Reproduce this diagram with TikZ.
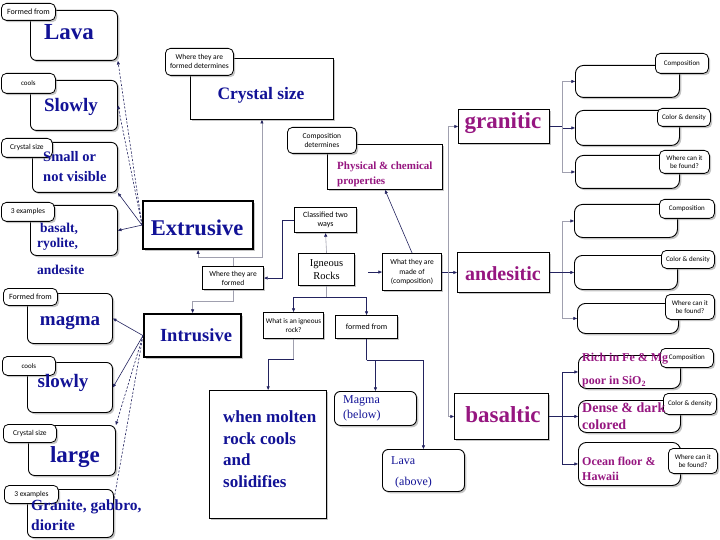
\documentclass[tikz,border=0pt]{standalone}
\usepackage{fontspec}
\setmainfont{Liberation Serif}
\newfontfamily\tagf{Carlito}
\usetikzlibrary{arrows.meta,shadows,calc}
\definecolor{tblue}{RGB}{18,18,150}
\definecolor{tpurp}{RGB}{150,22,128}
\definecolor{navy}{RGB}{35,35,95}
\definecolor{lgray}{RGB}{160,160,175}
\tikzset{
  shd/.style={drop shadow={shadow xshift=1.8pt,shadow yshift=-1.8pt,fill=black!45}},
  rbox/.style={shd,draw=black,line width=0.9pt,rounded corners=6pt,fill=white,inner sep=0pt,anchor=north west},
  tagbox/.style={shd,draw=black,line width=0.8pt,rounded corners=5pt,fill=white,inner sep=0pt,anchor=north west,align=center,font=\tagf\fontsize{8}{8.6}\selectfont},
  sbox/.style={shd,draw=black,line width=1.1pt,fill=white,inner sep=0pt,anchor=north west,align=center,font=\tagf\fontsize{8}{9.6}\selectfont},
  bbox/.style={shd,draw=black,line width=2.2pt,fill=white,inner sep=0pt,anchor=north west},
  pbox/.style={shd,draw=black,line width=1pt,fill=white,inner sep=0pt,anchor=north west},
  big/.style={inner sep=0pt,text=tblue,font=\bfseries\fontsize{#1}{#1}\selectfont},
  bigl/.style={big=#1,anchor=west},
  pur/.style={inner sep=0pt,text=tpurp,font=\bfseries\fontsize{#1}{#1}\selectfont},
  purl/.style={pur=#1,anchor=west},
  con/.style={navy,line width=0.6pt},
  arr/.style={con,-{Triangle[length=3.6pt,width=3pt]}},
  gcon/.style={lgray,line width=0.6pt},
  garr/.style={gcon,-{Triangle[length=3.6pt,width=3pt,color=navy]}},
  dsh/.style={dash pattern=on 2.2pt off 1.6pt},
}
\begin{document}
\begin{tikzpicture}[x=1pt,y=-1pt]
\fill[white] (0,0) rectangle (720,540);
\useasboundingbox (0,0) rectangle (720,540);

% ---------- left column boxes ----------
\node[rbox,minimum width=87pt,minimum height=50pt] (L1) at (30,10) {};
\node[rbox,minimum width=87pt,minimum height=50pt] (L2) at (30,80) {};
\node[rbox,minimum width=85pt,minimum height=50pt] (L3) at (32,142) {};
\node[rbox,minimum width=87pt,minimum height=50pt] (L4) at (30,205) {};
\node[rbox,minimum width=85pt,minimum height=50pt] (L5) at (27,293) {};
\node[rbox,minimum width=85pt,minimum height=50pt] (L6) at (27,362) {};
\node[rbox,minimum width=87pt,minimum height=50pt] (L7) at (28,425) {};
\node[rbox,minimum width=86pt,minimum height=48pt] (L8) at (27,489) {};

\node[tagbox,minimum width=54pt,minimum height=17pt] (T1) at (1,3) {Formed from};
\node[tagbox,minimum width=54pt,minimum height=20pt,font=\tagf\fontsize{7}{8}\selectfont] (T2) at (1,73) {cools};
\node[tagbox,minimum width=51pt,minimum height=19pt,font=\tagf\fontsize{7.5}{8}\selectfont] (T3) at (1,138) {Crystal size};
\node[tagbox,minimum width=53pt,minimum height=19pt,font=\tagf\fontsize{7.5}{8}\selectfont] (T4) at (1,202) {3 examples};
\node[tagbox,minimum width=54pt,minimum height=17pt] (T5) at (3,288) {Formed from};
\node[tagbox,minimum width=53pt,minimum height=19pt,font=\tagf\fontsize{7}{8}\selectfont] (T6) at (2,356) {cools};
\node[tagbox,minimum width=53pt,minimum height=18pt,font=\tagf\fontsize{7.5}{8}\selectfont] (T7) at (3,424) {Crystal size};
\node[tagbox,minimum width=54pt,minimum height=18pt,font=\tagf\fontsize{7.5}{8}\selectfont] (T8) at (4,485) {3 examples};

\node[big=23] (tLava) at (69,32) {Lava};
\node[big=19] (tSlowly) at (71,107) {Slowly};
\node[bigl=14.5] (tSmall) at (43,157) {Small or};
\node[bigl=14.5] (tVis) at (43,177) {not visible};
\node[bigl=13.5] (tBas) at (40,229) {basalt,};
\node[bigl=13.5] (tRyo) at (37,244) {ryolite,};
\node[bigl=13.5] (tAnd) at (37,270) {andesite};
\node[big=19] (tMagma) at (70,323) {magma};
\node[big=19] (tSlow2) at (63,383) {slowly};
\node[big=23] (tLarge) at (75,457) {large};
\node[bigl=15.5] (tGran) at (31,507) {Granite, gabbro,};
\node[bigl=15.5] (tDio) at (31,525) {diorite};

% ---------- middle ----------
\node[pbox,line width=0.9pt,minimum width=143pt,minimum height=61pt] (crystal) at (190,58) {};
\node[tagbox,minimum width=68pt,minimum height=27pt,font=\tagf\fontsize{7.5}{9}\selectfont] (Tcr) at (165,48) {Where they are\\formed determines};
\node[big=17.5] (tCrystal) at (261,95) {Crystal size};

\node[pbox,minimum width=115pt,minimum height=45pt] (phys) at (327,144) {};
\node[tagbox,minimum width=69pt,minimum height=26pt,font=\tagf\fontsize{7.5}{9}\selectfont] (Tph) at (287,127) {Composition\\determines};
\node[purl=11] (tPhys1) at (337,167) {Physical \& chemical};
\node[purl=11] (tPhys2) at (337,182) {properties};

\node[bbox,minimum width=110pt,minimum height=48pt] (extr) at (142,200) {};
\node[big=22.5] (tExtr) at (197,228) {Extrusive};
\node[bbox,minimum width=97pt,minimum height=43pt] (intr) at (143,313) {};
\node[big=18.5] (tIntr) at (196,335) {Intrusive};

\node[sbox,minimum width=62pt,minimum height=25pt] (class) at (294,207) {Classified two\\ways};
\node[sbox,minimum width=56pt,minimum height=32pt,font=\fontsize{10.5}{12.5}\selectfont] (ign) at (298,253) {Igneous\\Rocks};
\node[sbox,minimum width=59pt,minimum height=37pt,font=\tagf\fontsize{7.5}{9.4}\selectfont] (made) at (382,253) {What they are\\made of\\(composition)};
\node[sbox,minimum width=61pt,minimum height=23pt,font=\tagf\fontsize{7.5}{9}\selectfont] (where) at (202,266) {Where they are\\formed};
\node[sbox,minimum width=60pt,minimum height=26pt,font=\tagf\fontsize{7.2}{9.4}\selectfont] (whatis) at (263,312) {What is an igneous\\rock?};
\node[sbox,minimum width=62pt,minimum height=23pt] (fromb) at (335,315) {formed from};

\node[pbox,line width=1.3pt,minimum width=117pt,minimum height=128pt] (molten) at (209,390) {};
\node[bigl=17] (tM1) at (223,417) {when molten};
\node[bigl=17] (tM2) at (223,439) {rock cools};
\node[bigl=17] (tM3) at (223,460) {and};
\node[bigl=17] (tM4) at (223,482) {solidifies};

\node[rbox,minimum width=82pt,minimum height=34pt] (magma2) at (334,391) {};
\node[anchor=west,inner sep=0pt,text=tblue,font=\fontsize{12}{12}\selectfont] (tMg1) at (343,401) {Magma};
\node[anchor=west,inner sep=0pt,text=tblue,font=\fontsize{12}{12}\selectfont] (tMg2) at (343,416) {(below)};
\node[rbox,minimum width=82pt,minimum height=42pt] (lava2) at (382,449) {};
\node[anchor=west,inner sep=0pt,text=tblue,font=\fontsize{12}{12}\selectfont] (tLv1) at (391,461) {Lava};
\node[anchor=west,inner sep=0pt,text=tblue,font=\fontsize{12}{12}\selectfont] (tLv2) at (395,483) {(above)};

\node[pbox,minimum width=91pt,minimum height=34pt] (gran) at (458,109) {};
\node[pur=23] (tGr) at (503,123) {granitic};
\node[pbox,minimum width=92pt,minimum height=40pt] (ande) at (457,252) {};
\node[pur=20] (tAn) at (503,274) {andesitic};
\node[pbox,minimum width=94pt,minimum height=46pt] (basa) at (454,393) {};
\node[pur=23] (tBa) at (503,415) {basaltic};

% ---------- right column ----------
\tikzset{rr/.style={rbox,rounded corners=8pt}}
\node[rr,minimum width=104pt,minimum height=32pt] (g1) at (575,65) {};
\node[rr,minimum width=104pt,minimum height=35pt] (g2) at (575,110) {};
\node[rr,minimum width=104pt,minimum height=33pt] (g3) at (575,155) {};
\node[rr,minimum width=103pt,minimum height=33pt] (a1) at (574,204) {};
\node[rr,minimum width=103pt,minimum height=34pt] (a2) at (574,255) {};
\node[rr,minimum width=101pt,minimum height=30pt] (a3) at (577,303) {};
\node[rr,minimum width=102pt,minimum height=33pt] (b1) at (578,355) {};
\node[rr,minimum width=102pt,minimum height=32pt] (b2) at (578,400) {};
\node[rr,minimum width=102pt,minimum height=43pt] (b3) at (578,442) {};

\tikzset{rtag/.style={tagbox,font=\tagf\fontsize{7}{8.2}\selectfont}}
\node[rtag,minimum width=53pt,minimum height=20pt] (g1t) at (655,53) {Composition};
\node[rtag,minimum width=53pt,minimum height=18pt] (g2t) at (657,108) {Color \& density};
\node[rtag,minimum width=50pt,minimum height=23pt] (g3t) at (659,150) {Where can it\\be found?};
\node[rtag,minimum width=55pt,minimum height=19pt] (a1t) at (659,199) {Composition};
\node[rtag,minimum width=53pt,minimum height=18pt] (a2t) at (661,250) {Color \& density};
\node[rtag,minimum width=49pt,minimum height=25pt] (a3t) at (665,294) {Where can it\\be found?};
\node[rtag,minimum width=53pt,minimum height=19pt] (b1t) at (660,348) {Composition};
\node[rtag,minimum width=53pt,minimum height=21pt] (b2t) at (663,393) {Color \& density};
\node[rtag,minimum width=49pt,minimum height=25pt] (b3t) at (668,448) {Where can it\\be found?};

\node[purl=12] (tB1) at (582,359) {Rich in Fe \& Mg};
\node[purl=12] (tB2) at (582,382) {poor in SiO\textsubscript{2}};
\node[purl=14] (tB3) at (582,408) {Dense \& dark};
\node[purl=14] (tB4) at (582,425) {colored};
\node[purl=12] (tB5) at (582,461) {Ocean floor \&};
\node[purl=12] (tB6) at (582,476) {Hawaii};

% ---------- connectors ----------
\draw[arr,dsh] (extr.west) -- (L1.south east);
\draw[arr,dsh] (extr.west) -- (L2.east);
\draw[arr] (extr.west) -- (L3.south east);
\draw[arr] (extr.west) -- (L4.east);

\draw[arr] (intr.west) -- (L5.east);
\draw[arr] (intr.west) -- (L6.east);
\draw[arr,dsh] (intr.west) -- (L7.north east);
\draw[con,dsh] (intr.west) -- ($(L8.north east)+(0,11)$);

\draw[gcon] (where.north) -- ++(0,-9) coordinate (wj);
\draw[garr] (wj) -| (extr.south);
\draw[garr] (wj) -| (crystal.south);
\draw[garr] (where.south) -- ++(0,11) -| (intr.north);

\draw[arr] (class.west) -- ++(-12,0) |- (where.east);
\draw[garr] (ign.north) -- (class.south);
\draw[arr] ([xshift=13pt]made.west -| ign.east) -- (made.west);
\draw[gcon] (ign.south) -- ++(0,11) coordinate (ij);
\draw[arr] (ij) -| (whatis.north);
\draw[arr] (ij) -| (fromb.north);
\draw[arr] (made.north) -- (phys.south);

\draw[con] (made.east) -- ++(6,0) coordinate (mj);
\draw[garr] (mj) |- (gran.west);
\draw[arr] (mj) |- (ande.west);
\draw[garr] (mj) |- (basa.west);

\draw[con] (gran.east) -- ++(12,0) coordinate (gj);
\draw[garr] (gj) |- (g1.west);
\draw[arr] (gj) |- (g2.west);
\draw[garr] (gj) |- (g3.west);

\draw[con] (ande.east) -- ++(12,0) coordinate (aj);
\draw[garr] (aj) |- (a1.west);
\draw[arr] (aj) |- (a2.west);
\draw[garr] (aj) |- (a3.west);

\draw[con] (basa.east) -- ++(13,0) coordinate (bj);
\draw[arr] (bj) |- (b1.west);
\draw[arr] (bj) |- (b2.west);
\draw[arr] (bj) |- (b3.west);

\draw[gcon] (whatis.south) -- ++(0,20) coordinate (wm);
\draw[arr] (wm) -| (molten.north);
\draw[con] (fromb.south) -- ++(0,21) coordinate (fj);
\draw[arr] (fj) -| (magma2.north);
\draw[arr] (fj) -| (lava2.north);
\end{tikzpicture}
\end{document}
